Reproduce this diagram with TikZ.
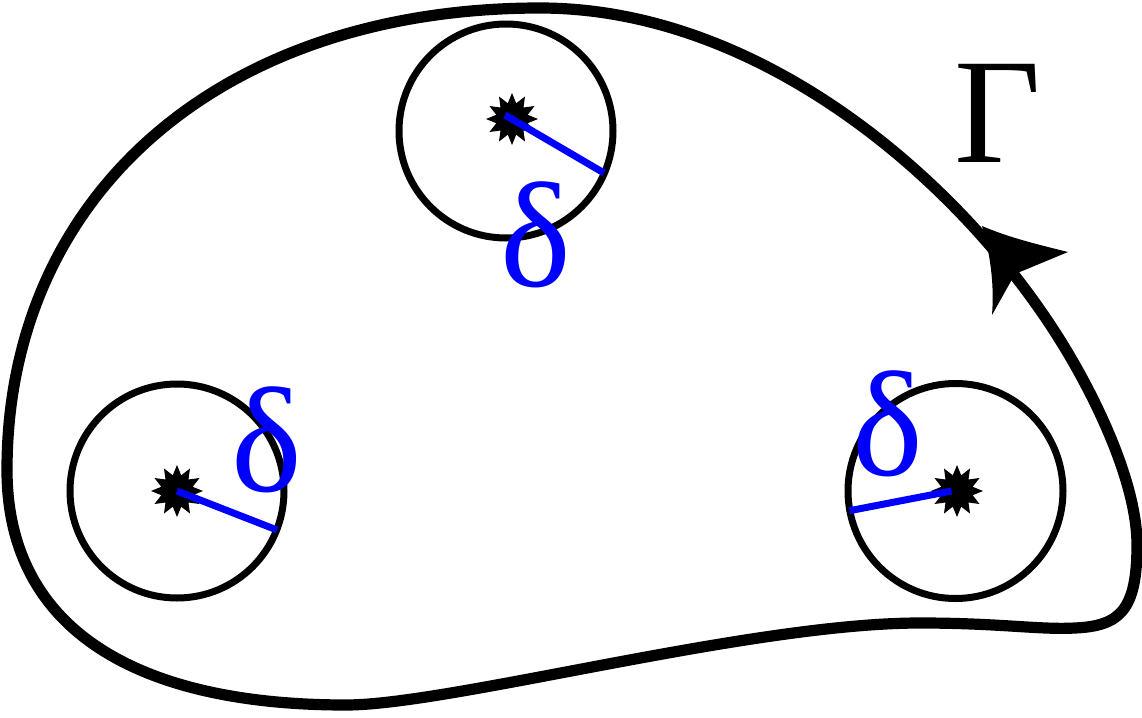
\documentclass[tikz,border=0pt]{standalone}
\usepackage{fontspec}
\setmainfont{Liberation Serif}
\usetikzlibrary{shapes.geometric}
\tikzset{
  gammaline/.style={line width=5.6pt, line join=round},
  disc/.style={line width=3.5pt},
  radius line/.style={draw=blue, line width=3.5pt},
  pole/.style={star, star points=12, star point ratio=1.6, minimum size=26pt, inner sep=0pt, fill=black, draw=none},
  lbl/.style={inner sep=0pt, font=\fontsize{75}{80}\selectfont},
  dlbl/.style={lbl, text=blue}
}
\begin{document}
\begin{tikzpicture}[x=0.5pt,y=-0.5pt]
\useasboundingbox (0,0) rectangle (1142,718);
% outer contour Gamma
\draw[gammaline] (1137,545)
  .. controls (1137,480) and (1092,391) .. (1060,340)
  .. controls (960,180) and (760,8) .. (540,8)
  .. controls (220,8) and (7,195) .. (7,470)
  .. controls (7,625) and (130,705) .. (346,705)
  .. controls (450,705) and (750,623) .. (920,623)
  .. controls (1000,623) and (1040,630) .. (1075,628)
  .. controls (1120,626) and (1137,610) .. (1137,545) -- cycle;
% arrowhead
\fill (982,226) .. controls (992,260) and (994,290) .. (992,315)
  -- (1015,274) -- (1068,252) .. controls (1040,245) and (1010,238) .. cycle;
\node[lbl] (G) at (998,113) {Γ};
% circles
\draw[disc] (506,131) circle[radius=107];
\draw[disc] (177,491) circle[radius=107];
\draw[disc] (955.5,491) circle[radius=107.5];
% poles
\node[pole] (p1) at (512,119) {};
\node[pole] (p2) at (177,491) {};
\node[pole] (p3) at (957,491) {};
% radii
\coordinate (r1) at (604,173);
\coordinate (r2) at (277,530);
\coordinate (r3) at (849.6,510.7);
\draw[radius line] (505,115) -- (r1);
\draw[radius line] (p2.center) -- (r2);
\draw[radius line] (951.5,491) -- (r3);
% labels
\node[dlbl] (d1) at (536,235) {δ};
\node[dlbl] (d2) at (267,440) {δ};
\node[dlbl] (d3) at (888,424) {δ};
\end{tikzpicture}
\end{document}
